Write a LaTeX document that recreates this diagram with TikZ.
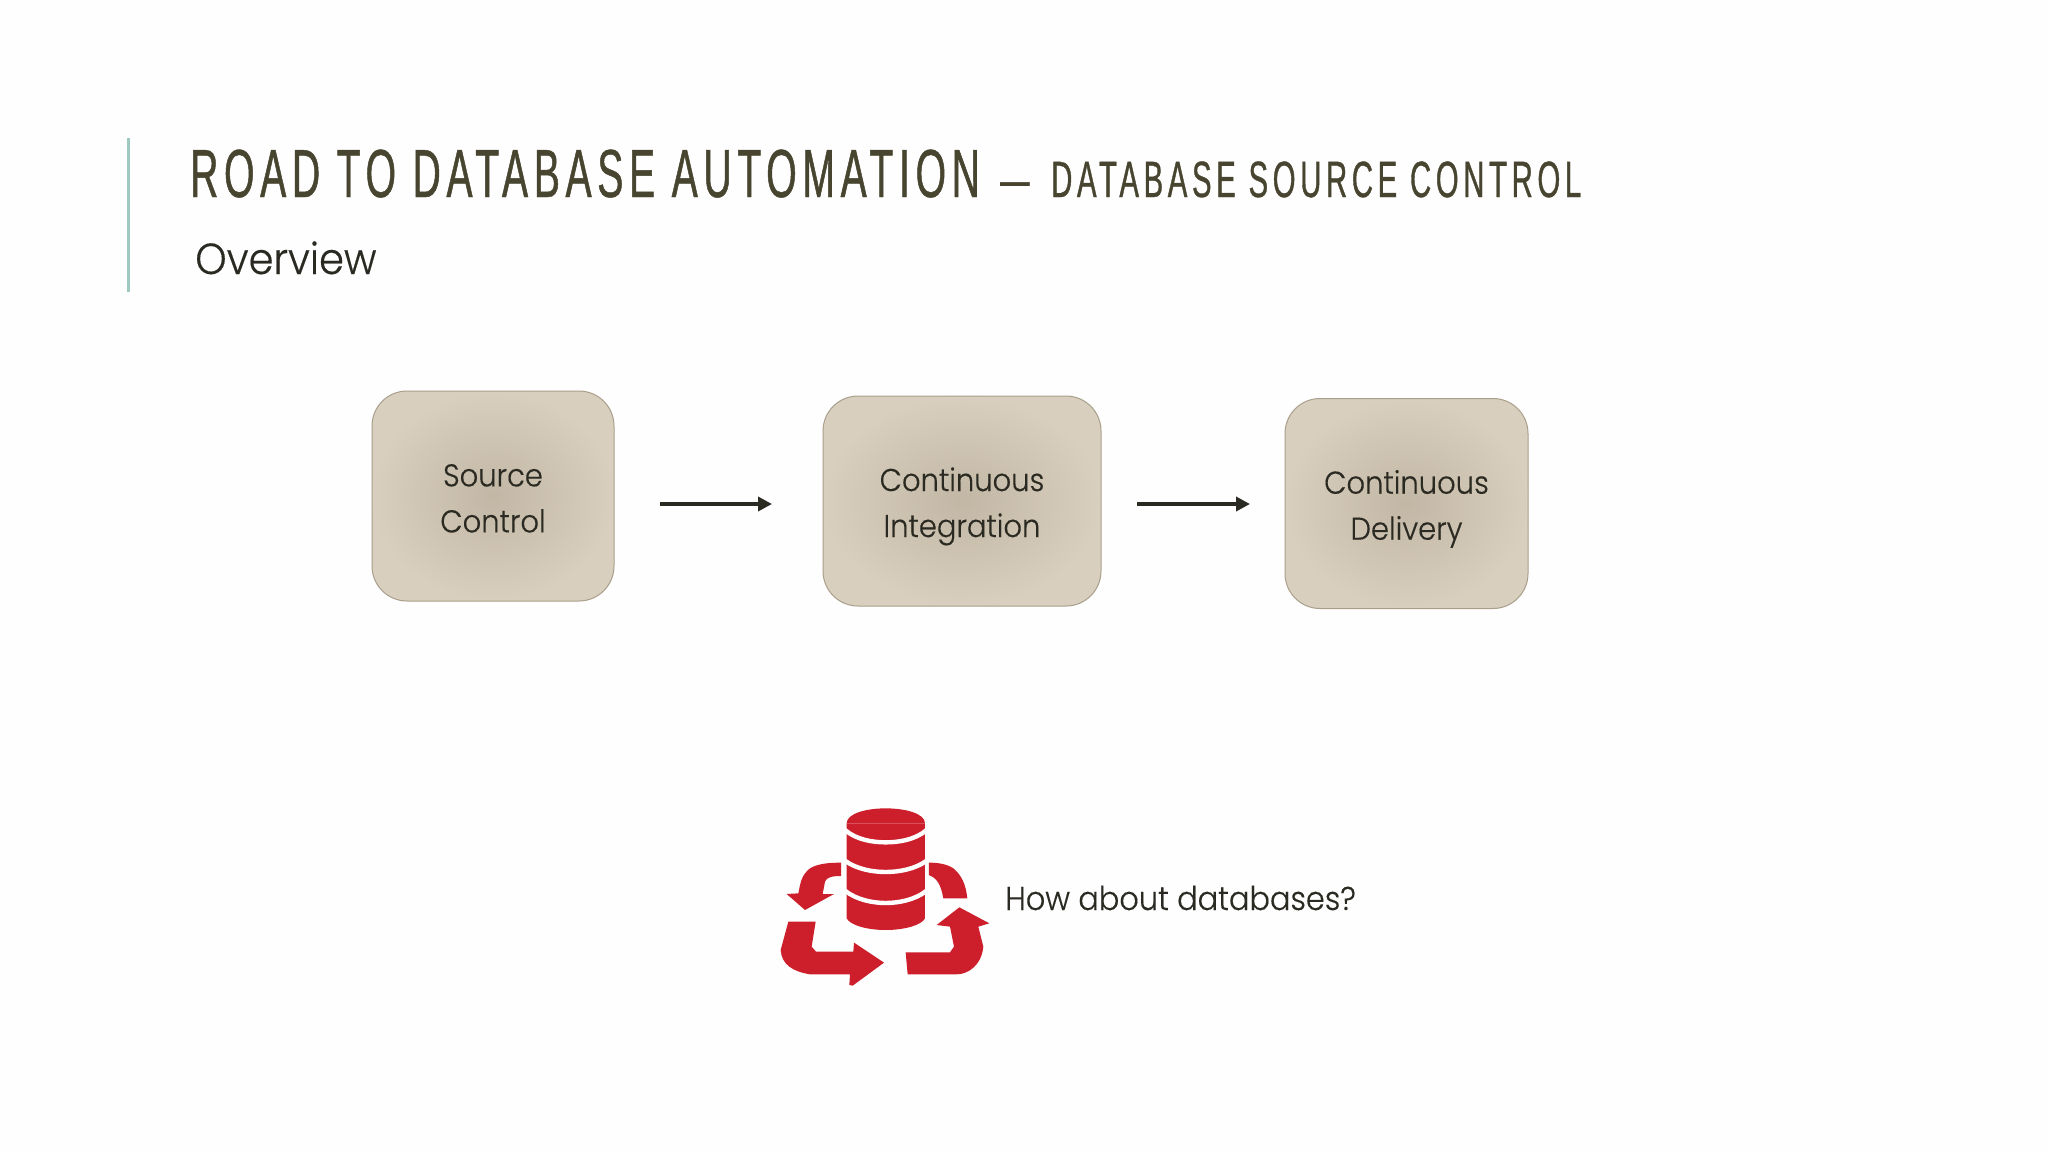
\documentclass[tikz,border=0pt]{standalone}
\usepackage{fontspec}
\usetikzlibrary{arrows.meta}
\setmainfont{Poppins}
\newfontfamily\titlefont[FakeStretch=0.575,LetterSpace=8.36,FakeBold=0.7]{Liberation Sans}
\newfontfamily\subtfont[FakeStretch=0.575,LetterSpace=9.1,FakeBold=0.7]{Liberation Sans}
\newfontfamily\bodyfont[FakeStretch=0.92,FakeBold=0.3]{Poppins Light}
\definecolor{titlecol}{HTML}{47452F}
\definecolor{bodycol}{HTML}{2B2A22}
\definecolor{barcol}{HTML}{9CC9C0}
\definecolor{boxin}{HTML}{C2B7A5}
\definecolor{boxout}{HTML}{D9CFBE}
\definecolor{boxline}{HTML}{A99F8C}
\definecolor{iconred}{HTML}{CC1F2B}
\definecolor{pagebg}{HTML}{FEFEFE}
\tikzset{
 x=1pt,y=-1pt,
 stagebox/.style={rectangle,rounded corners=35pt,draw=boxline,line width=1pt,inner color=boxin,outer color=boxout,align=center,text=bodycol,font=\bodyfont\fontsize{31.5}{46}\selectfont,inner sep=0pt},
 flow/.style={draw=bodycol,line width=4.5pt,-{Triangle[length=14pt,width=14pt]}},
 redshape/.style={fill=iconred,draw=none},
 gap/.style={draw=pagebg,line width=4.4pt},
}
\begin{document}
\begin{tikzpicture}
\useasboundingbox (0,0) rectangle (2048,1152);
\fill[pagebg] (0,0) rectangle (2048,1152);
\fill[barcol] (126.5,138) rectangle (129.5,292);
\node[anchor=base west,inner sep=0,text=titlecol,font=\titlefont\fontsize{68}{70}\selectfont] (title) at (190,197) {ROAD TO DATABASE AUTOMATION};
\node[anchor=base west,inner sep=0,text=titlecol,font=\subtfont\fontsize{51}{60}\selectfont] (dash) at (1000,197) {—};
\node[anchor=base west,inner sep=0,text=titlecol,font=\subtfont\fontsize{51}{60}\selectfont] (subt) at (1051,197) {DATABASE SOURCE CONTROL};
\node[anchor=base west,inner sep=0,text=bodycol,font=\bodyfont\fontsize{43.5}{50}\selectfont] (over) at (195,274) {Overview};
\node[stagebox,minimum width=242pt,minimum height=210pt] (b1) at (493,496) {\rule{0pt}{27pt}Source\\Control};
\node[stagebox,minimum width=278pt,minimum height=210pt] (b2) at (962,501) {\rule{0pt}{34.5pt}Continuous\\Integration};
\node[stagebox,minimum width=243pt,minimum height=210pt] (b3) at (1406.5,503.5) {\rule{0pt}{34.5pt}Continuous\\Delivery};
\coordinate (a1s) at (660,504); \coordinate (a1e) at (772,504);
\coordinate (a2s) at (1137,504); \coordinate (a2e) at (1250,504);
\draw[flow] (a1s) -- (a1e);
\draw[flow] (a2s) -- (a2e);
\node[anchor=base west,inner sep=0,text=bodycol,font=\bodyfont\fontsize{33}{40}\selectfont] (q) at (1005,910) {How about databases?};
\begin{scope}[shift={(760,790)},x=0.3333pt,y=-0.3333pt]
 % cylinder
 \fill[redshape] (260,100) -- (260,385) .. controls (270,405) and (320,420) .. (377,420) .. controls (435,420) and (485,405) .. (495,385) -- (495,100) -- cycle;
 \fill[redshape] (260,100) .. controls (260,70) and (320,55) .. (377,55) .. controls (435,55) and (495,70) .. (495,100) -- cycle;
 \draw[gap] (255,120) .. controls (290,150) and (340,157) .. (377,157) .. controls (415,157) and (465,150) .. (500,120);
 \draw[gap] (255,212) .. controls (290,238) and (340,246) .. (377,246) .. controls (415,246) and (465,238) .. (500,212);
 \draw[gap] (255,302) .. controls (290,330) and (340,339) .. (377,339) .. controls (415,339) and (465,330) .. (500,302);
 % top-left arrow
 \fill[redshape] (243,218) -- (243,258) .. controls (215,258) and (200,262) .. (195,275) -- (188,312) -- (222,312) -- (135,360) -- (80,312) -- (115,310) .. controls (122,275) and (125,255) .. (150,235) .. controls (175,220) and (210,218) .. cycle;
 % top-right arrow
 \fill[redshape] (507,218) -- (507,255) .. controls (530,265) and (542,280) .. (550,325) -- (622,325) .. controls (618,285) and (605,255) .. (580,235) .. controls (560,222) and (535,218) .. cycle;
 % bottom-left arrow
 \fill[redshape] (85,395) -- (167,395) -- (155,470) -- (168,485) -- (280,485) -- (282,458) -- (372,518) -- (278,587) -- (268,585) -- (270,553) -- (150,553) .. controls (100,545) and (65,525) .. (62,480) -- cycle;
 % bottom-right arrow
 \fill[redshape] (437,487) -- (570,487) -- (582,470) -- (570,410) -- (530,405) -- (598,352) -- (688,400) -- (655,410) -- (670,470) .. controls (665,525) and (625,553) .. (590,553) -- (443,553) -- cycle;
\end{scope}
\end{tikzpicture}
\end{document}
